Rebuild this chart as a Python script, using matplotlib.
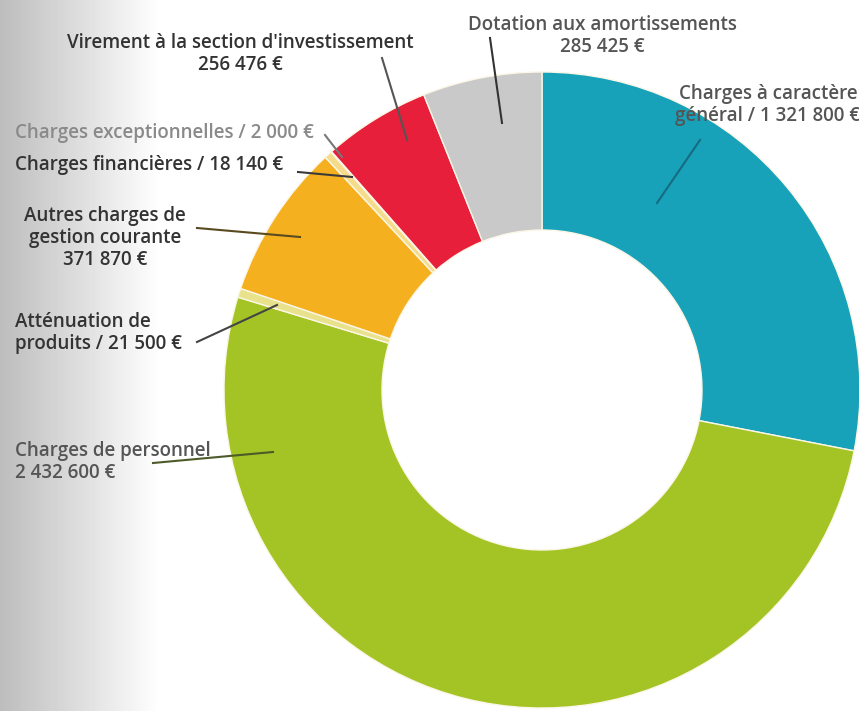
import matplotlib
matplotlib.use("Agg")
import matplotlib.pyplot as plt
import numpy as np

# Données du budget (section de fonctionnement - dépenses)
labels = [
    "Charges à caractère\ngénéral / 1 321 800 €",
    "Charges de personnel\n2 432 600 €",
    "Atténuation de\nproduits / 21 500 €",
    "Autres charges de\ngestion courante\n371 870 €",
    "Charges financières / 18 140 €",
    "Charges exceptionnelles / 2 000 €",
    "Virement à la section d'investissement\n256 476 €",
    "Dotation aux amortissements\n285 425 €",
]
values = [1321800, 2432600, 21500, 371870, 18140, 2000, 256476, 285425]
colors = ["#17a2ba", "#a4c425", "#e9e28c", "#f5b01f", "#f4dc8a", "#f2c9b0", "#e81f3b", "#c9c9c9"]

W, H = 859, 711

def Y(y):
    # coordonnées image (y vers le bas) -> coordonnées axes
    return H - y

# mise en page des étiquettes : (x, y, alignement, couleur, départ ligne, arrivée ligne, couleur ligne)
layout = [
    (768, 105, "center", "#555555", (700, 140), (657, 203), "#176b80"),
    (15, 462, "left", "#555555", (153, 463), (273, 452), "#4d5a2a"),
    (15, 333, "left", "#333333", (197, 342), (277, 305), "#444444"),
    (105, 238, "center", "#333333", (197, 228), (300, 237), "#5a4a20"),
    (15, 165, "left", "#333333", (298, 172), (352, 177), "#3a3a3a"),
    (15, 133, "left", "#8a8a8a", (325, 135), (342, 157), "#777777"),
    (240, 54, "center", "#333333", (382, 58), (407, 140), "#555555"),
    (602, 36, "center", "#555555", (490, 38), (502, 123), "#333333"),
]

fig = plt.figure(figsize=(W / 100, H / 100), dpi=100)
ax = fig.add_axes([0, 0, 1, 1])

# fond dégradé gris à gauche
grad = np.clip(0.74 + 0.26 * np.linspace(0, 1, 200) / 0.8, 0, 1)
ax.imshow(np.tile(grad, (2, 1)), cmap="gray", vmin=0, vmax=1, extent=[0, 200, 0, H],
          aspect="auto", zorder=0)

ax.pie(values, colors=colors, startangle=90, counterclock=False,
       radius=318, center=(542, Y(390)),
       wedgeprops=dict(width=158, edgecolor="#fbf6e6", linewidth=1))

for lab, (x, y, ha, col, p0, p1, lcol) in zip(labels, layout):
    ax.text(x, Y(y), lab, ha=ha, va="center", color=col, fontsize=13.5,
            family="Open Sans", fontweight="semibold", linespacing=1.15, zorder=5)
    ax.plot([p0[0], p1[0]], [Y(p0[1]), Y(p1[1])], color=lcol, lw=1.5, zorder=4)

ax.set_xlim(0, W)
ax.set_ylim(0, H)
ax.set_aspect("equal")
ax.axis("off")

fig.savefig("out.png", dpi=100)
